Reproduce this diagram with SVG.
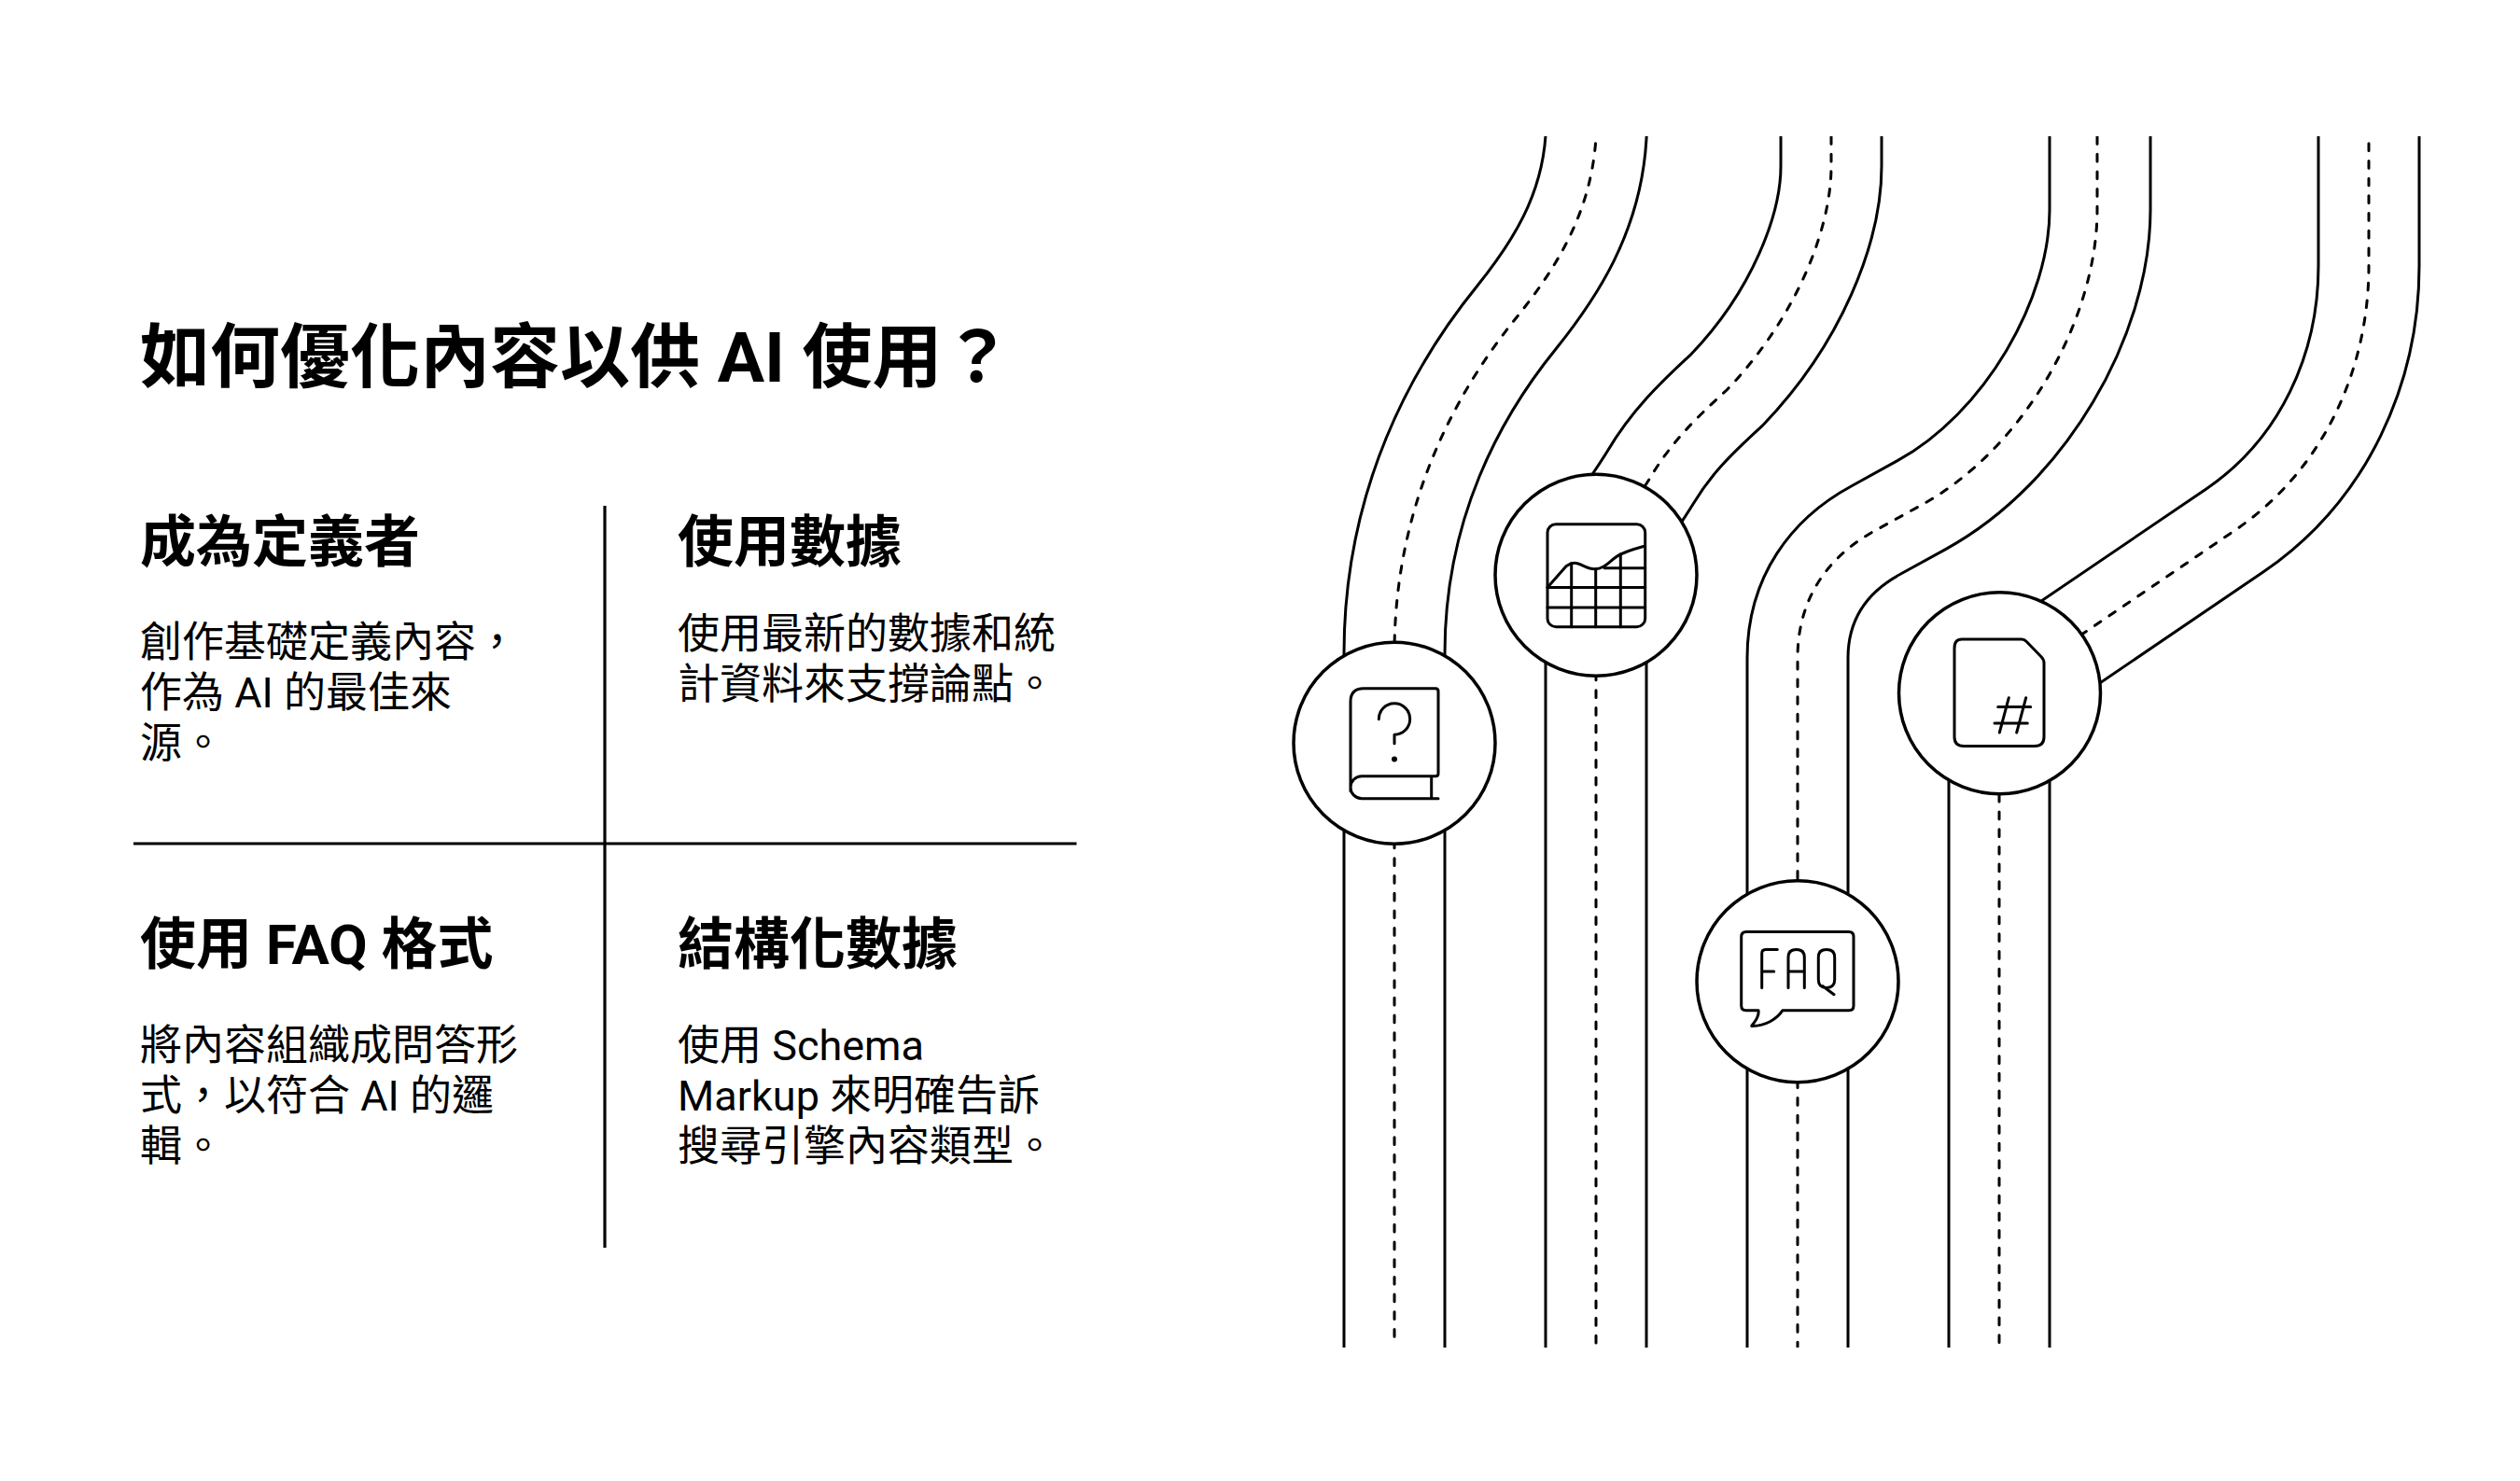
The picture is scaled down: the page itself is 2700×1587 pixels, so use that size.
<svg xmlns="http://www.w3.org/2000/svg" width="2700" height="1587" viewBox="0 0 2700 1587">
<style>
text{font-family:Roboto,"Noto Sans CJK TC",sans-serif;fill:#000}
.title{font-size:75px;font-weight:700}
.head{font-size:60px;font-weight:700}
.body{font-size:45px;font-weight:400}
.edge{fill:none;stroke:#000;stroke-width:111}
.inner{fill:none;stroke:#fff;stroke-width:105}
.dash{fill:none;stroke:#000;stroke-width:3;stroke-linecap:round;stroke-dasharray:7.7 10.99}
.rule{stroke:#000;stroke-width:3.2;fill:none}
.disc{fill:#fff;stroke:#000;stroke-width:3.5}
.ico{fill:none;stroke:#000;stroke-width:3;stroke-linecap:round;stroke-linejoin:round}
</style>
<defs>
<clipPath id="band"><rect x="1300" y="146" width="1400" height="1298"/></clipPath>
<path id="r1" d="M1711.7,120L1710,147C1705,230 1665,290 1625,340C1560,420 1494,540 1494,700V1470"/>
<path id="r2" d="M1962,120V178C1962,245 1925,340 1850,418C1815,450 1790,475 1768,512C1752,538 1728,570 1715,600"/>
<path id="r2b" d="M1710,614V1470"/>
<path id="r3" d="M2250,120V225C2250,340 2170,480 2059,541L2010,568C1960,595 1926,640 1926,705V1470"/>
<path id="r4" d="M2538,120V285C2538,395 2490,503 2395,568L2142,740"/>
<path id="r4b" d="M2142,741V1470"/>
</defs>
<rect width="2700" height="1587" fill="#fff"/>
<g id="text-panel">
<text class="title" x="150" y="408.5">如何優化內容以供 AI 使用？</text>
<line class="rule" x1="648" y1="542" x2="648" y2="1337"/>
<line class="rule" x1="143" y1="904" x2="1153.5" y2="904"/>
<g id="card-definer">
<text class="head" x="150" y="601.5">成為定義者</text>
<text class="body" x="150" y="703.5">創作基礎定義內容，</text>
<text class="body" x="150" y="757.5">作為 AI 的最佳來</text>
<text class="body" x="150" y="811.5">源。</text>
</g>
<g id="card-data">
<text class="head" x="726" y="601.5">使用數據</text>
<text class="body" x="726" y="694.5">使用最新的數據和統</text>
<text class="body" x="726" y="748.5">計資料來支撐論點。</text>
</g>
<g id="card-faq">
<text class="head" x="150" y="1032.5">使用 FAQ 格式</text>
<text class="body" x="150" y="1136">將內容組織成問答形</text>
<text class="body" x="150" y="1190">式，以符合 AI 的邏</text>
<text class="body" x="150" y="1244">輯。</text>
</g>
<g id="card-schema">
<text class="head" x="726" y="1032.5">結構化數據</text>
<text class="body" x="726" y="1136">使用 Schema</text>
<text class="body" x="726" y="1190">Markup 來明確告訴</text>
<text class="body" x="726" y="1244">搜尋引擎內容類型。</text>
</g>
</g>
<g id="connectors" clip-path="url(#band)">
<use href="#r1" class="edge"/><use href="#r1" class="inner"/>
<use href="#r2" class="edge"/><use href="#r2b" class="edge"/><use href="#r2" class="inner"/><use href="#r2b" class="inner"/>
<use href="#r3" class="edge"/><use href="#r3" class="inner"/>
<use href="#r4" class="edge"/><use href="#r4b" class="edge"/><use href="#r4" class="inner"/><use href="#r4b" class="inner"/>
<path class="dash" style="stroke-dashoffset:11.9" d="M1710,147C1705,230 1665,290 1625,340C1560,420 1494,540 1494,700"/>
<path class="dash" d="M1494,789V1443"/>
<path class="dash" d="M1962,146.5V178C1962,245 1925,340 1850,418C1815,450 1790,475 1768,512C1752,538 1728,570 1715,600"/>
<path class="dash" d="M1710,683.7V1443"/>
<path class="dash" d="M2247,146.5V225C2247,340 2170,480 2059,541L2010,568C1960,595 1926,640 1926,705V960"/>
<path class="dash" d="M1926,1064.4V1443"/>
<path class="dash" style="stroke-dashoffset:11.9" d="M2538,147V285C2538,395 2490,503 2395,568L2142,740"/>
<path class="dash" d="M2142,720.5V1443"/>
</g>
<g id="node-book" transform="translate(0,1.7)">
<circle class="disc" cx="1494" cy="794.5" r="108"/>
<path class="ico" d="M1447,846V750Q1447,736 1461,736H1538Q1541,736 1541,739V827Q1541,830 1538,830H1459A12,12 0 0 0 1459,854H1541M1533.7,830V854"/>
<path class="ico" d="M1477.3,769A16.7,16.7 0 1 1 1494,785.5V795"/>
<circle cx="1494" cy="811.7" r="3" fill="#000"/>
</g>
<g id="node-chart" transform="translate(0,1.7)">
<circle class="disc" cx="1710" cy="614.5" r="108"/>
<rect class="ico" x="1658" y="560" width="104.7" height="110" rx="9"/>
<path class="ico" d="M1719,607H1762.7M1658,627.7H1762.7M1658,649.3H1762.7M1683.7,601.7V670M1709.7,608V670M1736.3,592V670"/>
<path class="ico" d="M1658,627.7L1678,605Q1684,600.5 1690,602C1697,604 1702,608.5 1709,608C1720,608 1725,598 1736,592.5C1745,588 1755,585.5 1762,583.5"/>
</g>
<g id="node-faq" transform="translate(0,1.7)">
<circle class="disc" cx="1926" cy="1050" r="108"/>
<path class="ico" d="M1871,996.7H1981Q1986,996.7 1986,1002V1076Q1986,1081 1981,1081H1910C1904,1090 1892,1098 1876.7,1097.7C1881,1092 1885,1087 1884,1081H1871Q1865.7,1081 1865.7,1076V1002Q1865.7,996.7 1871,996.7Z"/>
<path class="ico" d="M1904.3,1015.7H1892Q1887.7,1015.7 1887.7,1020V1056.7M1887.7,1039.3H1900.7"/>
<path class="ico" d="M1916,1056.7V1024Q1916,1015.7 1924.7,1015.7Q1933.3,1015.7 1933.3,1024V1056.7M1916,1039.3H1933.3"/>
<path class="ico" d="M1948.3,1024Q1948.3,1015.7 1957,1015.7Q1965.7,1015.7 1965.7,1024V1048Q1965.7,1056.7 1957,1056.7Q1948.3,1056.7 1948.3,1048ZM1953,1055L1965,1064"/>
</g>
<g id="node-doc" transform="translate(0,1.7)">
<circle class="disc" cx="2142.5" cy="741" r="108"/>
<path class="ico" d="M2102,683.3H2166Q2169,683.3 2171,685.5L2187,702Q2190,705 2190,709V788Q2190,797.7 2180,797.7H2104Q2094,797.7 2094,788V693Q2094,683.3 2102,683.3Z"/>
<path class="ico" d="M2140.7,755.7H2175.7M2137,773.3H2172.3M2152.3,746L2142.3,783.3M2170.7,746L2160.7,783.3"/>
</g>
</svg>
